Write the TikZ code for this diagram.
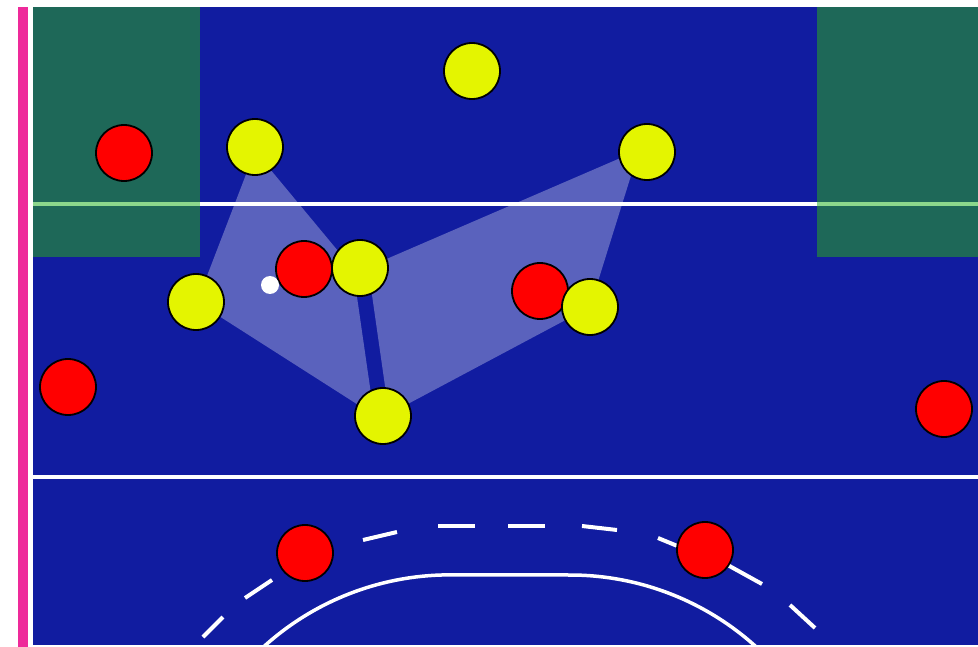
\documentclass[tikz,border=0pt]{standalone}
\definecolor{field}{RGB}{17,28,160}
\definecolor{zone}{RGB}{30,104,88}
\definecolor{pinkstrip}{RGB}{238,42,154}
\definecolor{zoneline}{RGB}{140,215,140}
\definecolor{ylw}{RGB}{228,245,0}
\definecolor{redp}{RGB}{255,0,0}
\tikzset{
  player/.style={circle, draw=black, line width=1.8pt, minimum size=56pt, inner sep=0pt},
  attacker/.style={player, fill=ylw},
  defender/.style={player, fill=redp},
  pitchline/.style={white, line width=3.5pt},
  arcdash/.style={white, line width=4pt},
  zonepoly/.style={white, fill opacity=0.31},
}
\begin{document}
\begin{tikzpicture}[x=1pt,y=-1pt]
\useasboundingbox (0,0) rectangle (978,647);
\fill[white] (0,0) rectangle (978,647);
% field
\fill[field] (33,7) rectangle (978,645);
\fill[pinkstrip] (18,7) rectangle (28,647);
\fill[white] (28,7) rectangle (33,647);
% green zones
\fill[zone] (33,7) rectangle (200,257);
\fill[zone] (817,7) rectangle (978,257);
% lines
\draw[pitchline] (200,204) -- (817,204);
\draw[zoneline, line width=3.5pt] (33,204) -- (200,204);
\draw[zoneline, line width=3.5pt] (817,204) -- (978,204);
\draw[pitchline] (33,477) -- (978,477);
% shooting circle
\begin{scope}
\clip (33,7) rectangle (978,645);
\draw[pitchline] (254,656) arc[start angle=225,end angle=270,radius=277] -- (570,575) arc[start angle=270,end angle=315,radius=277];
\end{scope}
% dashed circle
\draw[arcdash] (203,637) -- (223,617);
\draw[arcdash] (245,598) -- (272,580);
\draw[arcdash] (363,540) -- (397,532);
\draw[arcdash] (438,526) -- (475,526);
\draw[arcdash] (508,526) -- (545,526);
\draw[arcdash] (582,526) -- (617,530);
\draw[arcdash] (658,538) -- (692,552);
\draw[arcdash] (724,563) -- (762,584);
\draw[arcdash] (790,605) -- (815,628);
% passing zones
\fill[zonepoly] (255,151) -- (197,302) -- (374,415) -- (353,269) -- cycle;
\fill[zonepoly] (368,267) -- (639,150) -- (590,307) -- (389,414) -- cycle;
% defenders
\node[defender] (d1) at (124,153) {};
\node[defender] (d2) at (304,269) {};
\node[defender] (d3) at (540,291) {};
\node[defender] (d4) at (68,387) {};
\node[defender] (d5) at (944,409) {};
\node[defender] (d6) at (305,553) {};
\node[defender] (d7) at (705,550) {};
% attackers
\node[attacker] (a1) at (472,71) {};
\node[attacker] (a2) at (255,147) {};
\node[attacker] (a3) at (647,152) {};
\node[attacker] (a4) at (196,302) {};
\node[attacker] (a5) at (360,268) {};
\node[attacker] (a6) at (590,307) {};
\node[attacker] (a7) at (383,416) {};
% ball
\node[circle, fill=white, minimum size=18pt, inner sep=0pt] (ball) at (270,285) {};
\end{tikzpicture}
\end{document}
